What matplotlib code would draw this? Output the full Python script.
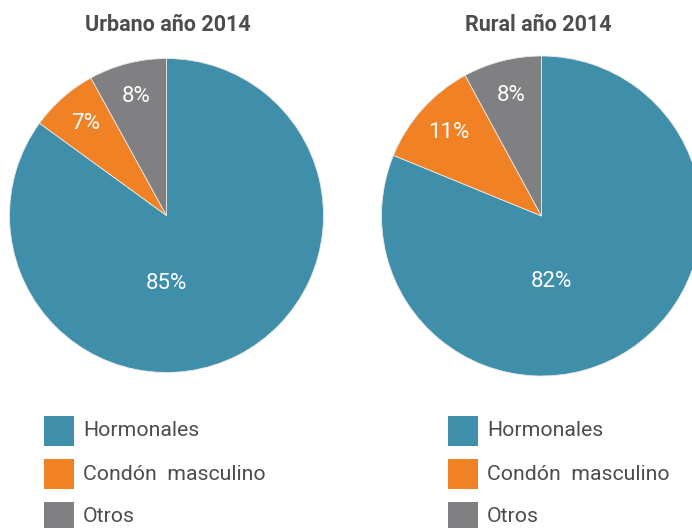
import matplotlib.pyplot as plt
from matplotlib.patches import Rectangle

# Data
categories = ["Hormonales", "Condón  masculino", "Otros"]
colors = ["#3F8FAB", "#F08125", "#808083"]
urbano = [85, 7, 8]
rural = [82, 11, 8]
titles = ["Urbano año 2014", "Rural año 2014"]

W, H = 692, 528
text_color = "#4D4D4F"
plt.rcParams['font.family'] = ['Roboto', 'DejaVu Sans']

fig = plt.figure(figsize=(W / 100, H / 100), dpi=100)


def px_axes(cx, cy, r):
    # axes box in pixel units (top-left origin) -> figure fraction
    return fig.add_axes([(cx - r) / W, 1 - (cy + r) / H, 2 * r / W, 2 * r / H])


def draw_pie(ax, values, big_label_pos):
    wedges, _, autotexts = ax.pie(values, colors=colors, startangle=90,
                                  counterclock=False, autopct='%d',
                                  pctdistance=0.78,
                                  wedgeprops=dict(edgecolor='#E8E8E8', linewidth=0.6))
    for t, v in zip(autotexts, values):
        t.set_text(f"{v}%")
        t.set_color('white')
        t.set_fontsize(16)
    autotexts[0].set_position(big_label_pos)
    ax.set_xlim(-1, 1)
    ax.set_ylim(-1, 1)
    ax.set_aspect('equal')
    ax.axis('off')


ax1 = px_axes(166.5, 215.5, 157)
draw_pie(ax1, urbano, (0, -0.43))
ax2 = px_axes(541.5, 216, 160)
draw_pie(ax2, rural, (0.06, -0.41))

fig.text(168 / W, 1 - 25 / H, titles[0], ha='center', va='center',
         fontsize=15.5, fontweight='bold', color=text_color)
fig.text(538 / W, 1 - 25 / H, titles[1], ha='center', va='center',
         fontsize=15.5, fontweight='bold', color=text_color)

# Legends
for x0 in (44, 448):
    for i, (cat, col) in enumerate(zip(categories, colors)):
        y0 = 416 + 43 * i
        fig.add_artist(Rectangle((x0 / W, 1 - (y0 + 30) / H), 30 / W, 30 / H,
                                 transform=fig.transFigure, color=col, lw=0))
        fig.text((x0 + 39) / W, 1 - (y0 + 15) / H, cat, ha='left', va='center',
                 fontsize=15.3, color=text_color)

fig.savefig("out.png", dpi=100)
